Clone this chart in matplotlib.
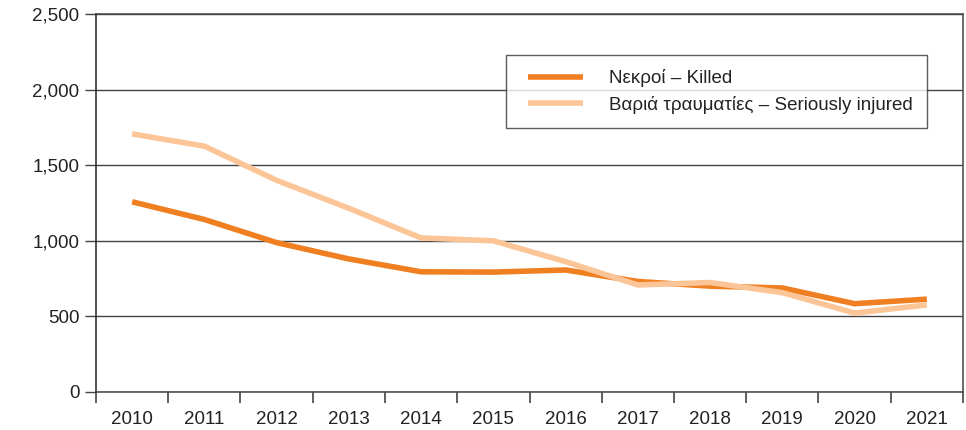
import matplotlib
matplotlib.use("Agg")
import matplotlib.pyplot as plt
from matplotlib.legend_handler import HandlerLine2D
import numpy as np

plt.rcParams['font.family'] = ['Liberation Sans', 'DejaVu Sans']

years = ['2010', '2011', '2012', '2013', '2014', '2015',
         '2016', '2017', '2018', '2019', '2020', '2021']
killed = [1258, 1141, 988, 880, 795, 793, 807, 731, 700, 688, 584, 614]
injured = [1707, 1626, 1400, 1215, 1019, 1000, 862, 708, 724, 657, 522, 576]
label_killed = 'Νεκροί – Killed'
label_injured = 'Βαριά τραυματίες – Seriously injured'
yticks = [0, 500, 1000, 1500, 2000, 2500]

c_killed = '#F07F22'
c_injured = '#FCC597'
ink = '#222222'
grid_c = '#444444'
fs = 13.5

fig = plt.figure(figsize=(9.66, 4.30), dpi=100)
ax = fig.add_axes([96 / 966, 38 / 430, 867 / 966, 378 / 430])

x = np.arange(len(years))
ax.set_xlim(-0.5, len(years) - 0.5)
ax.set_ylim(0, 2500)

ax.set_yticks(yticks)
ax.set_yticklabels([f'{v:,}' for v in yticks])
ax.yaxis.grid(True, color=grid_c, linewidth=1.0)
ax.set_axisbelow(True)

ax.set_xticks(x)
ax.set_xticklabels(years)
ax.set_xticks(np.arange(len(years) + 1) - 0.5, minor=True)
ax.tick_params(axis='x', which='major', length=0, pad=14, labelsize=fs, labelcolor=ink)
ax.tick_params(axis='x', which='minor', length=8, width=1.2, color=grid_c)
ax.tick_params(axis='y', length=8, width=1.0, color=grid_c, pad=4, labelsize=fs, labelcolor=ink)

for side in ['left', 'right', 'top', 'bottom']:
    ax.spines[side].set_color(grid_c)
    ax.spines[side].set_linewidth(1.1)
ax.spines['left'].set_color('#222222')

ax.plot(x, killed, color=c_killed, linewidth=4.0, solid_capstyle='butt',
        solid_joinstyle='round', label=label_killed, zorder=3)
ax.plot(x, injured, color=c_injured, linewidth=4.0, solid_capstyle='butt',
        solid_joinstyle='round', label=label_injured, zorder=4)

# extra left inset for the legend swatches
pad_x = 0.43
leg = ax.legend(loc='upper left', bbox_to_anchor=((506 - 96) / 867, (392 - 55) / 378),
                frameon=True, fancybox=False, fontsize=fs, handlelength=2.9 + pad_x,
                handletextpad=1.4, borderpad=0.75, labelspacing=0.45, borderaxespad=0,
                handler_map={matplotlib.lines.Line2D: HandlerLine2D(xpad=pad_x)})
leg.get_frame().set_edgecolor('#333333')
leg.get_frame().set_linewidth(1.0)
for t in leg.get_texts():
    t.set_color(ink)

fig.savefig('out.png', dpi=100)
